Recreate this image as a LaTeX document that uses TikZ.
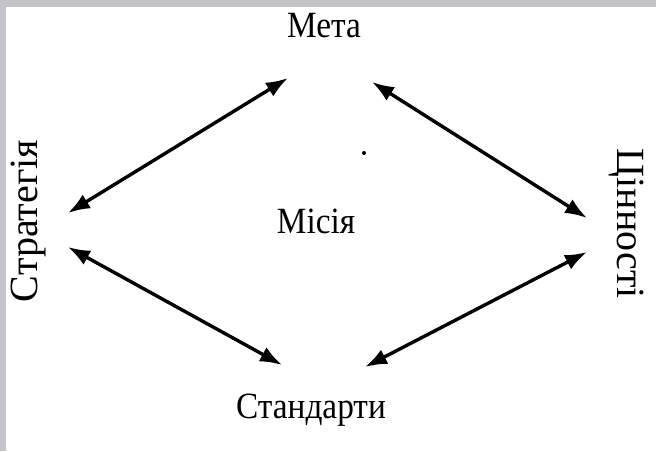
\documentclass[tikz,border=0pt]{standalone}
\usepackage{fontspec}
\setmainfont{Liberation Serif}
\usetikzlibrary{arrows.meta}
\definecolor{framegray}{RGB}{196,196,201}

\newcommand{\narrow}[1]{\scalebox{0.9}[1]{#1}}

\begin{document}
\begin{tikzpicture}[
  x=0.5pt, y=0.5pt,
  every node/.style={inner sep=0pt},
  term/.style={font=\fontsize{18.5}{22}\selectfont, anchor=base},
  vterm/.style={font=\fontsize{20}{24}\selectfont},
  link/.style={{Latex[length=11pt,width=8pt]}-{Latex[length=11pt,width=8pt]}, line width=1.7pt, draw=black},
  frame/.style={fill=framegray, draw=none}
]

% === PAGE AND FRAME ===
\fill[white] (0,0) rectangle (656,451);
\useasboundingbox (0,0) rectangle (656,451);
\fill[frame] (0,444) rectangle (656,451);
\fill[frame] (0,0) rectangle (6,451);

% === TERMS ===
\node[term] (meta) at (324, 414) {\narrow{Мета}};
\node[term] (misia) at (316, 218) {\narrow{Місія}};
\node[term] (standarty) at (311, 33) {\narrow{Стандарти}};
\node[vterm, rotate=90] (strategia) at (29, 230) {Стратегія};
\node[vterm, rotate=-90] (tsinnosti) at (626, 227) {Цінності};

% arrow ends
\coordinate (s-up) at (68, 238);
\coordinate (s-dn) at (68, 204);
\coordinate (m-l) at (288, 373);
\coordinate (m-r) at (372, 369);
\coordinate (t-up) at (587, 233);
\coordinate (t-dn) at (587, 199);
\coordinate (st-l) at (282, 86);
\coordinate (st-r) at (365, 84);

% === LINKS ===
\draw[link] (s-up) -- (m-l);
\draw[link] (m-r) -- (t-up);
\draw[link] (s-dn) -- (st-l);
\draw[link] (st-r) -- (t-dn);

% stray dot
\fill (364, 298) circle (2);

\end{tikzpicture}
\end{document}
